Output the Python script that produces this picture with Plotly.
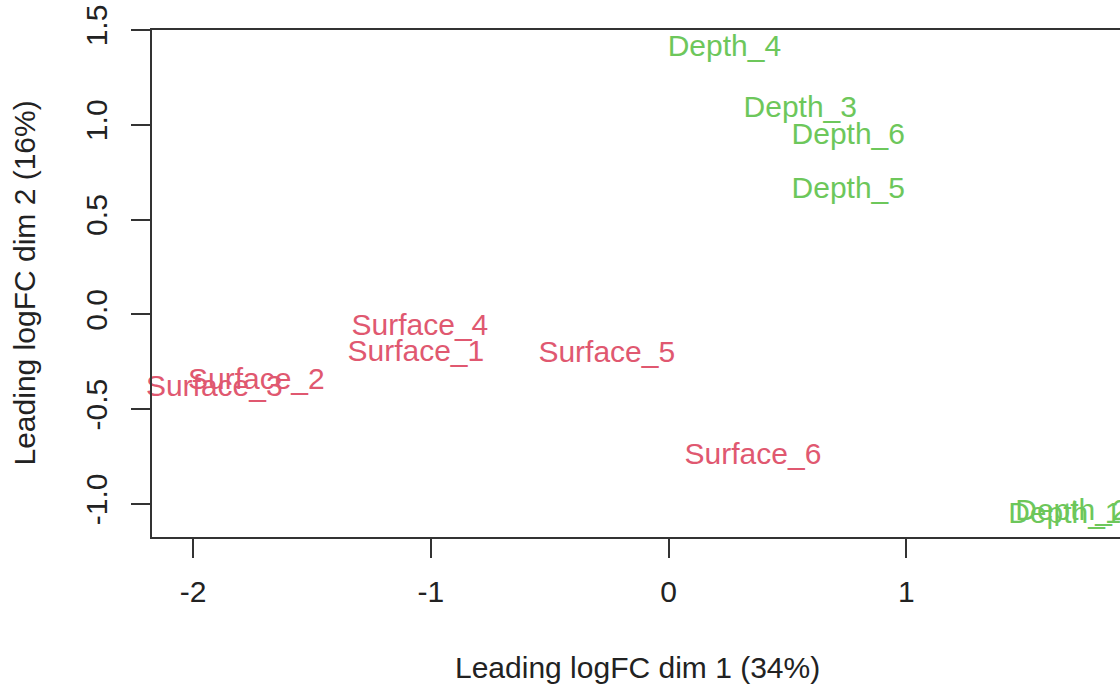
import plotly.graph_objects as go

# MDS coordinates (leading logFC dims) per sample
samples = ["Surface_1", "Surface_2", "Surface_3", "Surface_4", "Surface_5", "Surface_6",
           "Depth_1", "Depth_2", "Depth_3", "Depth_4", "Depth_5", "Depth_6"]
dim1 = [-1.063, -1.734, -1.911, -1.046, -0.260, 0.355,
        1.667, 1.697, 0.554, 0.235, 0.756, 0.756]
dim2 = [-0.208, -0.353, -0.390, -0.071, -0.211, -0.749,
        -1.060, -1.045, 1.079, 1.401, 0.655, 0.940]
groups = ["Surface"] * 6 + ["Depth"] * 6
group_colors = {"Surface": "#E05870", "Depth": "#6DC75B"}

x_ticks = [-2, -1, 0, 1]
x_ticktext = ["-2", "-1", "0", "1"]
y_ticks = [-1.0, -0.5, 0.0, 0.5, 1.0, 1.5]
y_ticktext = ["-1.0", "-0.5", "0.0", "0.5", "1.0", "1.5"]

FONT = "Liberation Sans, Arial, Helvetica, sans-serif"
AXIS = "#333333"

fig = go.Figure()
for g in ["Surface", "Depth"]:
    idx = [i for i, gg in enumerate(groups) if gg == g]
    fig.add_trace(go.Scatter(
        x=[dim1[i] for i in idx],
        y=[dim2[i] for i in idx],
        text=[samples[i] for i in idx],
        mode="text",
        textposition="middle center",
        textfont=dict(family=FONT, size=30, color=group_colors[g]),
        cliponaxis=False,
        hoverinfo="text",
        showlegend=False,
    ))

fig.update_layout(
    width=1120,
    height=687,
    margin=dict(l=152, r=0, t=30, b=150, pad=0),
    paper_bgcolor="white",
    plot_bgcolor="white",
    font=dict(family=FONT, size=30, color="#222222"),
    xaxis=dict(
        range=[-2.173, 1.899],
        showgrid=False, zeroline=False,
        showline=True, linecolor=AXIS, linewidth=2, mirror=True,
        ticks="outside", ticklen=19, tickwidth=2, tickcolor=AXIS,
        tickvals=x_ticks, ticktext=x_ticktext,
        tickfont=dict(family=FONT, size=30, color="#222222"),
        ticklabelstandoff=8,
    ),
    yaxis=dict(
        range=[-1.175, 1.5],
        showgrid=False, zeroline=False,
        showline=True, linecolor=AXIS, linewidth=2, mirror=False,
        ticks="outside", ticklen=19, tickwidth=2, tickcolor=AXIS,
        tickvals=y_ticks, ticktext=y_ticktext, tickangle=-90,
        tickfont=dict(family=FONT, size=30, color="#222222"),
        ticklabelstandoff=12,
    ),
    annotations=[
        dict(text="Leading logFC dim 1 (34%)", xref="paper", yref="paper",
             x=0.502, y=(537 - 667) / 507, xanchor="center", yanchor="middle",
             showarrow=False, font=dict(family=FONT, size=30, color="#222222")),
        dict(text="Leading logFC dim 2 (16%)", xref="paper", yref="paper",
             x=(24 - 152) / 968, y=0.5, xanchor="center", yanchor="middle",
             textangle=-90, showarrow=False,
             font=dict(family=FONT, size=30, color="#222222")),
    ],
)

fig.write_html("out.html")
